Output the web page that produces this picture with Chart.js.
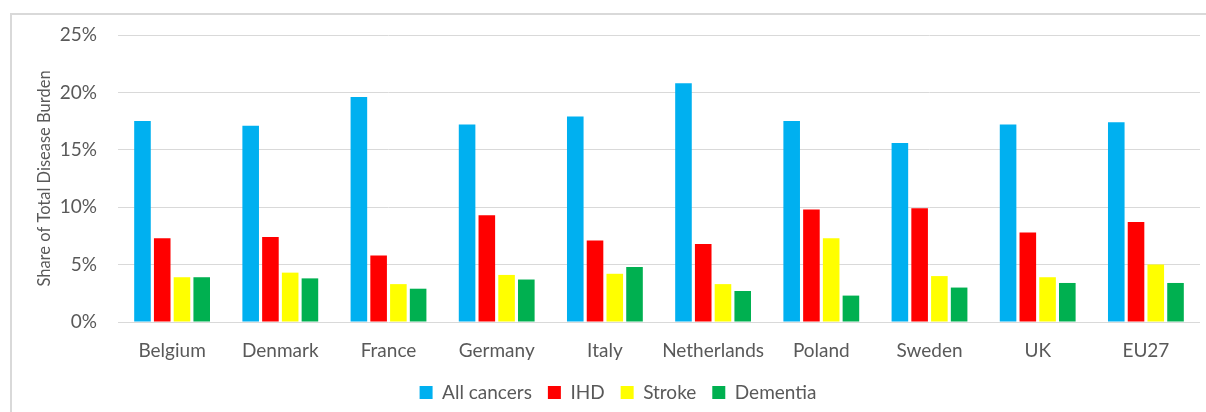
<!DOCTYPE html>
<html>
<head>
<meta charset="utf-8">
<script src="https://cdn.jsdelivr.net/npm/chart.js@4"></script>
<style>
  html, body { margin: 0; padding: 0; background: #fff; }
  #wrap { position: absolute; left: 0; top: 0; width: 1206px; height: 412px; }
  #frame { position: absolute; left: 10px; top: 13px; width: 1200px; height: 410px;
           border-left: 2px solid #d9d9d9; border-top: 2px solid #d9d9d9; box-sizing: border-box; }
  canvas { position: absolute; left: 0; top: 0; }
</style>
</head>
<body>
<div id="wrap">
  <div id="frame"></div>
  <canvas id="c" width="1206" height="412"></canvas>
</div>
<script>
const categories = ["Belgium", "Denmark", "France", "Germany", "Italy", "Netherlands", "Poland", "Sweden", "UK", "EU27"];
const allCancers = [17.5, 17.1, 19.6, 17.2, 17.9, 20.8, 17.5, 15.6, 17.2, 17.4];
const ihd        = [7.3, 7.4, 5.8, 9.3, 7.1, 6.8, 9.8, 9.9, 7.8, 8.7];
const stroke     = [3.9, 4.3, 3.3, 4.1, 4.2, 3.3, 7.3, 4.0, 3.9, 5.0];
const dementia   = [3.9, 3.8, 2.9, 3.7, 4.8, 2.7, 2.3, 3.0, 3.4, 3.4];
const seriesNames = ["All cancers", "IHD", "Stroke", "Dementia"];
const seriesColors = ["#00B0F0", "#FF0000", "#FFFF00", "#00B050"];
const yTicks = [0, 5, 10, 15, 20, 25];

const textColor = "#595959";
const fontFamily = "Lato, 'Open Sans', sans-serif";

const data = {
  labels: categories,
  datasets: [allCancers, ihd, stroke, dementia].map((vals, i) => ({
    label: seriesNames[i],
    data: vals,
    backgroundColor: seriesColors[i],
    borderWidth: 0,
    categoryPercentage: 0.73,
    barPercentage: 0.84
  }))
};

const legendShift = {
  id: "legendShift",
  afterLayout(chart) {
    if (chart.legend) { chart.legend.left += 18; chart.legend.right += 18; }
  }
};

new Chart(document.getElementById("c"), {
  type: "bar",
  data,
  plugins: [legendShift],
  options: {
    responsive: false,
    animation: false,
    layout: { padding: { left: 0, right: 6, top: 35, bottom: 0 } },
    plugins: {
      tooltip: { enabled: false },
      legend: {
        position: "bottom",
        labels: {
          color: textColor,
          font: { family: fontFamily, size: 19 },
          boxWidth: 13,
          boxHeight: 13,
          padding: 16
        }
      }
    },
    scales: {
      x: {
        afterFit: (axis) => { axis.height = 45; },
        grid: { display: false },
        border: { display: false },
        ticks: { color: textColor, font: { family: fontFamily, size: 19 }, padding: 9, maxRotation: 0 }
      },
      y: {
        min: 0,
        max: 25,
        afterBuildTicks: (axis) => { axis.ticks = yTicks.map(v => ({ value: v })); },
        afterFit: (axis) => { axis.width = 118; },
        grid: { color: "#d9d9d9", lineWidth: 1, drawTicks: false },
        border: { display: false },
        ticks: {
          color: textColor,
          font: { family: fontFamily, size: 19 },
          padding: 21,
          callback: (v) => v + "%"
        },
        title: {
          display: true,
          text: "Share of Total Disease Burden",
          color: textColor,
          font: { family: fontFamily, size: 16.5 },
          padding: { top: 35, bottom: 0 }
        }
      }
    }
  }
});
</script>
</body>
</html>
